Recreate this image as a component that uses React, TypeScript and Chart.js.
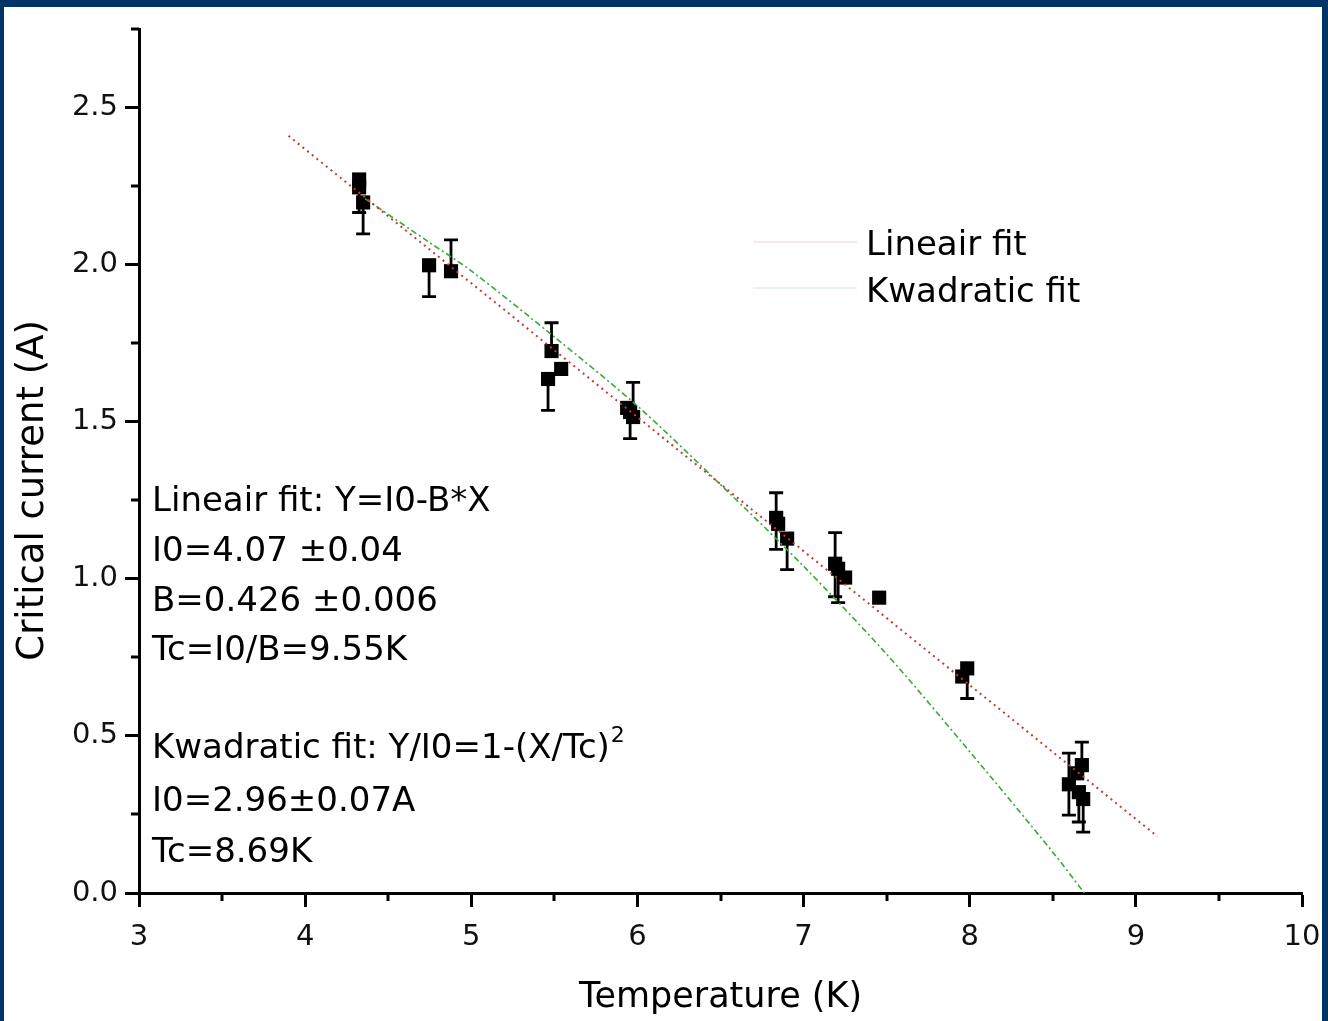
import React, { useEffect, useRef } from 'react';
import { Chart, registerables } from 'chart.js';

Chart.register(...registerables);

// ---- Data ----
const tempK = [4.325, 4.325, 4.349, 4.746, 4.878, 5.483, 5.541, 5.462, 5.938, 5.956, 5.974, 6.835, 6.847, 6.901, 7.19, 7.208, 7.25, 7.455, 7.955, 7.985, 8.597, 8.675, 8.657, 8.683, 8.647];
const currentA = [2.271, 2.246, 2.198, 1.998, 1.979, 1.725, 1.668, 1.636, 1.544, 1.531, 1.515, 1.194, 1.175, 1.128, 1.048, 1.032, 1.004, 0.94, 0.689, 0.715, 0.346, 0.407, 0.321, 0.299, 0.381];
const errLow = [0, 0.08, 0.1, 0.1, 0, 0, 0, 0.1, 0, 0.085, 0, 0.1, 0, 0.099, 0.105, 0.108, 0, 0, 0, 0.096, 0.098, 0, 0.095, 0.105, 0];
const errHigh = [0, 0, 0, 0, 0.1, 0.09, 0, 0, 0, 0, 0.11, 0.08, 0, 0, 0.099, 0, 0, 0, 0, 0, 0.099, 0.073, 0, 0, 0];

const linFitT = [3.9, 9.13];
const linFitI = [2.41, 0.18];

const quadFitT = [4.36, 4.75, 5.0, 5.5, 6.0, 6.5, 7.0, 7.5, 8.0, 8.5, 8.69];
const quadFitI = [2.21, 2.07, 1.98, 1.77, 1.55, 1.3, 1.04, 0.76, 0.45, 0.13, 0.0];

const legendLabels = ['Lineair fit', 'Kwadratic fit'];
const linearNotes = ['Lineair fit: Y=I0-B*X', 'I0=4.07 \u00b10.04', 'B=0.426 \u00b10.006', 'Tc=I0/B=9.55K'];
const quadNotes = ['Kwadratic fit: Y/I0=1-(X/Tc)', 'I0=2.96\u00b10.07A', 'Tc=8.69K'];
const quadSup = '2';
const xTitle = 'Temperature (K)';
const yTitle = 'Critical current (A)';

const FONT = '"DejaVu Sans", Verdana, sans-serif';
const RED = '#c83a32';
const GREEN = '#3aa83a';

const isHalfStep = (v: number) => Math.abs(v * 2 - Math.round(v * 2)) < 1e-6;

const bgPlugin = {
  id: 'bgFrame',
  beforeDraw(chart: any) {
    const { ctx, width, height } = chart;
    ctx.save();
    ctx.fillStyle = '#003366';
    ctx.fillRect(0, 0, width, height);
    ctx.fillStyle = '#ffffff';
    ctx.fillRect(4, 7, width - 10, height - 7);
    ctx.restore();
  },
};

const minorTickPlugin = {
  id: 'minorTicks',
  afterDraw(chart: any) {
    const { ctx } = chart;
    const xs = chart.scales.x;
    const ys = chart.scales.y;
    ctx.save();
    ctx.strokeStyle = '#000';
    ctx.lineWidth = 3;
    xs.ticks.forEach((t: any) => {
      if (!Number.isInteger(t.value)) {
        const px = Math.round(xs.getPixelForValue(t.value));
        ctx.beginPath();
        ctx.moveTo(px, xs.top);
        ctx.lineTo(px, xs.top + 8);
        ctx.stroke();
      }
    });
    ys.ticks.forEach((t: any) => {
      if (!isHalfStep(t.value)) {
        const py = Math.round(ys.getPixelForValue(t.value));
        ctx.beginPath();
        ctx.moveTo(ys.right, py);
        ctx.lineTo(ys.right - 8, py);
        ctx.stroke();
      }
    });
    ctx.restore();
  },
};

const errorBarPlugin = {
  id: 'errorBars',
  beforeDatasetsDraw(chart: any) {
    const { ctx } = chart;
    const xs = chart.scales.x;
    const ys = chart.scales.y;
    const cap = 7;
    ctx.save();
    ctx.strokeStyle = '#000';
    ctx.lineWidth = 2.8;
    tempK.forEach((t, i) => {
      const px = xs.getPixelForValue(t);
      const py = ys.getPixelForValue(currentA[i]);
      if (errHigh[i] > 0) {
        const pt = ys.getPixelForValue(currentA[i] + errHigh[i]);
        ctx.beginPath();
        ctx.moveTo(px, py);
        ctx.lineTo(px, pt);
        ctx.moveTo(px - cap, pt);
        ctx.lineTo(px + cap, pt);
        ctx.stroke();
      }
      if (errLow[i] > 0) {
        const pb = ys.getPixelForValue(currentA[i] - errLow[i]);
        ctx.beginPath();
        ctx.moveTo(px, py);
        ctx.lineTo(px, pb);
        ctx.moveTo(px - cap, pb);
        ctx.lineTo(px + cap, pb);
        ctx.stroke();
      }
    });
    ctx.restore();
  },
};

const notesPlugin = {
  id: 'notes',
  afterDraw(chart: any) {
    const { ctx } = chart;
    ctx.save();
    ctx.fillStyle = '#000';
    ctx.textAlign = 'left';
    ctx.textBaseline = 'alphabetic';
    ctx.font = `34px ${FONT}`;
    const linBase = [511, 561, 611, 660];
    linearNotes.forEach((s, i) => ctx.fillText(s, 152, linBase[i]));
    const quadBase = [758, 811, 862];
    quadNotes.forEach((s, i) => ctx.fillText(s, 152, quadBase[i]));
    const w = ctx.measureText(quadNotes[0]).width;
    ctx.font = `22px ${FONT}`;
    ctx.fillText(quadSup, 152 + w + 1, quadBase[0] - 16);

    // legend
    const legY = [242, 288];
    const legBase = [255, 302];
    const colors = [RED, GREEN];
    legendLabels.forEach((s, i) => {
      ctx.save();
      ctx.globalAlpha = 0.12;
      ctx.strokeStyle = colors[i];
      ctx.lineWidth = 2;
      ctx.beginPath();
      ctx.moveTo(753, legY[i]);
      ctx.lineTo(857, legY[i]);
      ctx.stroke();
      ctx.restore();
      ctx.font = `34px ${FONT}`;
      ctx.fillText(s, 866, legBase[i]);
    });
    ctx.restore();
  },
};

export default function App() {
  const ref = useRef<HTMLCanvasElement | null>(null);

  useEffect(() => {
    document.body.style.margin = '0';
    const canvas = ref.current;
    if (!canvas) return;

    const scatterData = tempK.map((t, i) => ({ x: t, y: currentA[i] }));
    const linData = linFitT.map((t, i) => ({ x: t, y: linFitI[i] }));
    const quadData = quadFitT.map((t, i) => ({ x: t, y: quadFitI[i] }));

    const tickFont = { family: FONT, size: 29 };

    const chart = new Chart(canvas, {
      type: 'scatter',
      data: {
        datasets: [
          {
            label: legendLabels[0],
            data: linData,
            showLine: true,
            borderColor: RED,
            borderWidth: 2,
            borderDash: [2, 4],
            pointRadius: 0,
            order: 0,
          },
          {
            label: legendLabels[1],
            data: quadData,
            showLine: true,
            borderColor: GREEN,
            borderWidth: 1.6,
            borderDash: [6, 3, 2, 3],
            pointRadius: 0,
            tension: 0.3,
            order: 0,
          },
          {
            label: 'Data',
            data: scatterData,
            pointStyle: 'rect',
            pointRadius: 10,
            pointHoverRadius: 10,
            backgroundColor: '#000',
            borderColor: '#000',
            borderWidth: 0,
            order: 1,
          },
        ],
      },
      options: {
        responsive: false,
        devicePixelRatio: 1,
        animation: false,
        layout: { padding: { left: 0, top: 29, right: 26, bottom: 0 } },
        plugins: {
          legend: { display: false },
          tooltip: { enabled: false },
        },
        scales: {
          x: {
            type: 'linear',
            min: 3,
            max: 10,
            afterFit: (s: any) => {
              s.height = 128;
              s.paddingLeft = 0;
              s.paddingRight = 0;
            },
            ticks: {
              stepSize: 0.5,
              autoSkip: false,
              maxRotation: 0,
              padding: 13,
              color: '#111',
              font: tickFont,
              callback: (v: any) => (Number.isInteger(v) ? String(v) : ''),
            },
            grid: {
              drawOnChartArea: false,
              drawTicks: true,
              tickLength: 14,
              tickWidth: 3,
              tickColor: (c: any) => (c.tick && Number.isInteger(c.tick.value) ? '#000' : 'rgba(0,0,0,0)'),
            },
            border: { color: '#000', width: 3 },
            title: {
              display: true,
              text: xTitle,
              color: '#000',
              font: { family: FONT, size: 35 },
              padding: { top: 0, bottom: 2 },
            },
          },
          y: {
            type: 'linear',
            min: 0,
            max: 2.75,
            afterFit: (s: any) => {
              s.width = 139;
              s.paddingTop = 0;
              s.paddingBottom = 0;
            },
            ticks: {
              stepSize: 0.25,
              autoSkip: false,
              padding: 7,
              color: '#111',
              font: tickFont,
              callback: (v: any) => (isHalfStep(Number(v)) ? Number(v).toFixed(1) : ''),
            },
            grid: {
              drawOnChartArea: false,
              drawTicks: true,
              tickLength: 14,
              tickWidth: 3,
              tickColor: (c: any) => (c.tick && isHalfStep(c.tick.value) ? '#000' : 'rgba(0,0,0,0)'),
            },
            border: { color: '#000', width: 3 },
            title: {
              display: true,
              text: yTitle + '     ',
              color: '#000',
              font: { family: FONT, size: 37 },
              padding: { top: 11, bottom: 0 },
            },
          },
        },
      },
      plugins: [bgPlugin, errorBarPlugin, minorTickPlugin, notesPlugin],
    } as any);

    return () => chart.destroy();
  }, []);

  return (
    <div style={{ position: 'fixed', left: 0, top: 0, width: 1328, height: 1021 }}>
      <canvas ref={ref} width={1328} height={1021} style={{ display: 'block' }} />
    </div>
  );
}
